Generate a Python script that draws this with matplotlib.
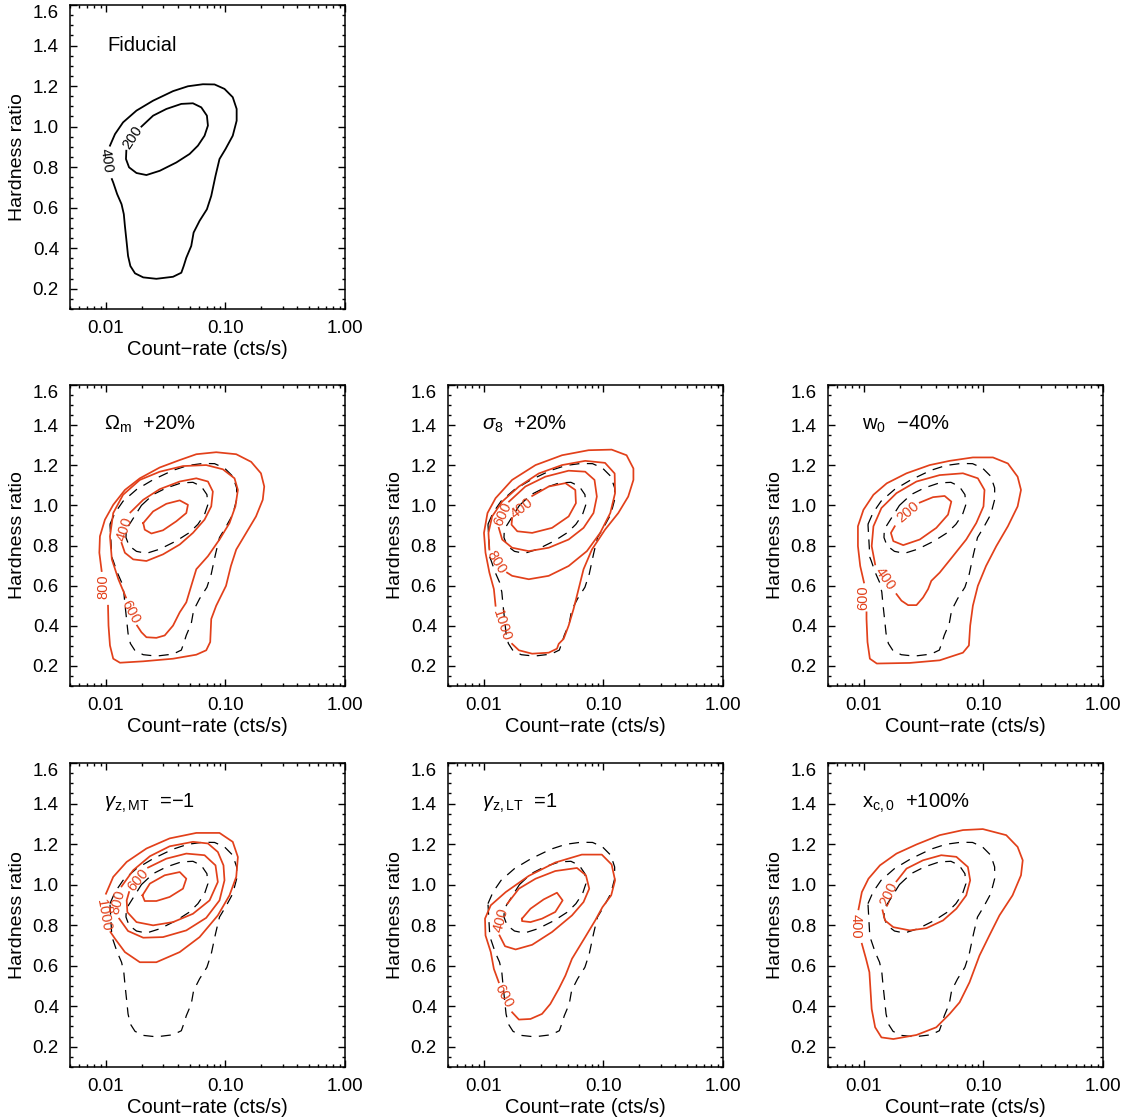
import numpy as np
import matplotlib
matplotlib.use('Agg')
import matplotlib.pyplot as plt
from matplotlib.ticker import FixedLocator, MultipleLocator, LogLocator, NullFormatter

plt.rcParams['font.family'] = ['Liberation Sans', 'DejaVu Sans']
plt.rcParams['mathtext.fontset'] = 'custom'
plt.rcParams['mathtext.rm'] = 'Liberation Sans'
plt.rcParams['mathtext.it'] = 'Liberation Sans:italic'

RED = '#E2401A'

# ---- contour paths (count-rate [cts/s], hardness ratio) ----
# fiducial model
fid400_cr = [0.0108, 0.0119, 0.0139, 0.0180, 0.0248, 0.0364, 0.0485, 0.0647, 0.0810, 0.0981, 0.115, 0.124, 0.124, 0.115, 0.100, 0.0891, 0.0825, 0.0760, 0.0699, 0.0607, 0.0541, 0.0517, 0.0470, 0.0447, 0.0427, 0.0364, 0.0264, 0.0205, 0.0175, 0.0160, 0.0153, 0.0149, 0.0144, 0.0141, 0.0135, 0.0124, 0.0115, 0.0112]
fid400_hr = [0.906, 0.963, 1.021, 1.079, 1.128, 1.175, 1.199, 1.209, 1.208, 1.186, 1.145, 1.087, 1.029, 0.955, 0.889, 0.840, 0.757, 0.658, 0.592, 0.535, 0.477, 0.411, 0.353, 0.312, 0.279, 0.259, 0.249, 0.256, 0.276, 0.312, 0.362, 0.428, 0.510, 0.568, 0.617, 0.667, 0.724, 0.741]
fid200_cr = [0.0198, 0.0248, 0.0320, 0.0427, 0.0534, 0.0627, 0.0699, 0.0713, 0.0668, 0.0588, 0.0501, 0.0388, 0.0282, 0.0218, 0.0180, 0.0156, 0.0147, 0.0148]
fid200_hr = [1.000, 1.054, 1.087, 1.112, 1.115, 1.095, 1.054, 1.005, 0.955, 0.906, 0.865, 0.823, 0.782, 0.761, 0.771, 0.799, 0.840, 0.881]

# Omega_m +20%
om800_cr = [0.0092, 0.0088, 0.0089, 0.0098, 0.0115, 0.0144, 0.0192, 0.0282, 0.0414, 0.0570, 0.0836, 0.123, 0.164, 0.198, 0.211, 0.205, 0.180, 0.149, 0.123, 0.111, 0.101, 0.0836, 0.0760, 0.0745, 0.0690, 0.0570, 0.0364, 0.0205, 0.0131, 0.0115, 0.0108, 0.0105, 0.0104]
om800_hr = [0.673, 0.764, 0.846, 0.929, 1.003, 1.077, 1.135, 1.189, 1.226, 1.255, 1.265, 1.255, 1.217, 1.160, 1.094, 1.028, 0.945, 0.863, 0.780, 0.698, 0.599, 0.500, 0.434, 0.319, 0.278, 0.256, 0.236, 0.223, 0.216, 0.236, 0.302, 0.401, 0.500]
om600_cr = [0.0147, 0.0127, 0.0112, 0.0108, 0.0115, 0.0139, 0.0192, 0.0282, 0.0441, 0.0690, 0.0950, 0.119, 0.127, 0.121, 0.108, 0.0891, 0.0713, 0.0570, 0.0517, 0.0470, 0.0414, 0.0364, 0.0310, 0.0264, 0.0218, 0.0198, 0.0182]
om600_hr = [0.541, 0.632, 0.731, 0.846, 0.962, 1.053, 1.127, 1.168, 1.196, 1.201, 1.180, 1.135, 1.077, 0.995, 0.912, 0.830, 0.747, 0.682, 0.599, 0.517, 0.467, 0.401, 0.352, 0.340, 0.343, 0.368, 0.401]
om400_cr = [0.0160, 0.0205, 0.0282, 0.0414, 0.0570, 0.0713, 0.0784, 0.0760, 0.0668, 0.0534, 0.0414, 0.0300, 0.0218, 0.0169, 0.0144, 0.0135]
om400_hr = [0.965, 1.028, 1.081, 1.119, 1.135, 1.119, 1.069, 0.995, 0.929, 0.863, 0.805, 0.756, 0.723, 0.731, 0.764, 0.813]
om200_cr = [0.0205, 0.0248, 0.0320, 0.0414, 0.0485, 0.0470, 0.0388, 0.0300, 0.0240, 0.0211, 0.0205]
om200_hr = [0.912, 0.970, 1.008, 1.025, 1.003, 0.962, 0.921, 0.876, 0.860, 0.879, 0.912]

# sigma_8 +20%
s1000_cr = [0.0125, 0.0121, 0.0111, 0.0103, 0.0100, 0.0107, 0.0125, 0.0172, 0.0270, 0.0450, 0.0750, 0.117, 0.156, 0.178, 0.178, 0.161, 0.133, 0.103, 0.0800, 0.0681, 0.0619, 0.0562, 0.0511, 0.0464, 0.0422, 0.0408, 0.0348, 0.0253, 0.0196, 0.0172]
s1000_hr = [0.500, 0.583, 0.665, 0.764, 0.863, 0.962, 1.036, 1.127, 1.201, 1.250, 1.275, 1.278, 1.250, 1.184, 1.127, 1.044, 0.962, 0.879, 0.780, 0.682, 0.583, 0.484, 0.401, 0.335, 0.310, 0.286, 0.266, 0.261, 0.278, 0.310]
s800_cr = [0.0111, 0.0109, 0.0117, 0.0142, 0.0196, 0.0287, 0.0450, 0.0703, 0.103, 0.124, 0.125, 0.114, 0.0938, 0.0726, 0.0511, 0.0348, 0.0237, 0.0172, 0.0156]
s800_hr = [0.780, 0.863, 0.945, 1.019, 1.094, 1.159, 1.201, 1.222, 1.212, 1.159, 1.061, 0.962, 0.863, 0.772, 0.698, 0.649, 0.632, 0.649, 0.665]
s600_cr = [0.0162, 0.0222, 0.0326, 0.0511, 0.0703, 0.0841, 0.0880, 0.0825, 0.0681, 0.0511, 0.0348, 0.0237, 0.0172, 0.0142, 0.0133]
s600_hr = [1.019, 1.094, 1.143, 1.173, 1.168, 1.127, 1.044, 0.962, 0.888, 0.830, 0.789, 0.772, 0.789, 0.830, 0.888]
s400_cr = [0.0253, 0.0348, 0.0480, 0.0581, 0.0588, 0.0511, 0.0371, 0.0253, 0.0190, 0.0170, 0.0172]
s400_hr = [1.047, 1.094, 1.111, 1.077, 1.011, 0.945, 0.888, 0.863, 0.871, 0.904, 0.937]

# w_0 -40%
w600_cr = [0.0100, 0.0093, 0.0089, 0.0089, 0.0099, 0.0120, 0.0155, 0.0227, 0.0355, 0.0521, 0.0815, 0.120, 0.160, 0.193, 0.206, 0.193, 0.160, 0.128, 0.105, 0.0897, 0.0815, 0.0774, 0.0755, 0.0673, 0.0430, 0.0242, 0.0128, 0.0112, 0.0107, 0.0105, 0.0105]
w600_hr = [0.616, 0.698, 0.797, 0.896, 0.978, 1.053, 1.110, 1.160, 1.201, 1.222, 1.239, 1.239, 1.209, 1.143, 1.077, 0.995, 0.896, 0.797, 0.698, 0.599, 0.500, 0.401, 0.302, 0.266, 0.228, 0.215, 0.212, 0.236, 0.319, 0.434, 0.467]
w400_cr = [0.0124, 0.0116, 0.0120, 0.0140, 0.0187, 0.0275, 0.0430, 0.0673, 0.0897, 0.102, 0.100, 0.0870, 0.0717, 0.0555, 0.0430, 0.0366, 0.0344, 0.0312, 0.0275, 0.0234, 0.0206, 0.0187]
w400_hr = [0.706, 0.797, 0.896, 0.987, 1.061, 1.119, 1.151, 1.160, 1.135, 1.077, 0.995, 0.912, 0.830, 0.747, 0.665, 0.624, 0.583, 0.541, 0.503, 0.503, 0.525, 0.558]
w200_cr = [0.0293, 0.0378, 0.0473, 0.0538, 0.0505, 0.0403, 0.0293, 0.0213, 0.0176, 0.0168, 0.0181]
w200_hr = [1.014, 1.041, 1.047, 1.019, 0.954, 0.888, 0.830, 0.802, 0.822, 0.863, 0.896]

# gamma_z,MT = -1
gm400_cr = [0.0202, 0.0233, 0.0310, 0.0414, 0.0470, 0.0441, 0.0341, 0.0264, 0.0211, 0.0202]
gm400_hr = [0.947, 1.005, 1.046, 1.062, 1.029, 0.980, 0.939, 0.919, 0.919, 0.947]
gm600_cr = [0.0225, 0.0320, 0.0470, 0.0668, 0.0825, 0.0863, 0.0736, 0.0534, 0.0364, 0.0248, 0.0180, 0.0151, 0.0149, 0.0156]
gm600_hr = [1.084, 1.128, 1.153, 1.145, 1.095, 1.013, 0.922, 0.856, 0.815, 0.799, 0.815, 0.864, 0.922, 0.963]
gm800_cr = [0.0135, 0.0169, 0.0233, 0.0341, 0.0534, 0.0713, 0.0863, 0.0962, 0.0981, 0.0891, 0.0690, 0.0470, 0.0300, 0.0205, 0.0153, 0.0129]
gm800_hr = [0.991, 1.071, 1.140, 1.189, 1.211, 1.203, 1.161, 1.095, 1.021, 0.922, 0.836, 0.774, 0.741, 0.738, 0.771, 0.832]
gm1000_cr = [0.0100, 0.0115, 0.0149, 0.0218, 0.0341, 0.0570, 0.0891, 0.115, 0.127, 0.123, 0.108, 0.0863, 0.0607, 0.0414, 0.0264, 0.0192, 0.0144, 0.0119, 0.0109]
gm1000_hr = [0.955, 1.038, 1.112, 1.178, 1.228, 1.255, 1.255, 1.211, 1.136, 1.038, 0.947, 0.848, 0.741, 0.667, 0.617, 0.617, 0.667, 0.733, 0.766]

# gamma_z,LT = 1
gl200_cr = [0.0208, 0.0245, 0.0316, 0.0408, 0.0455, 0.0395, 0.0306, 0.0245, 0.0208, 0.0208]
gl200_hr = [0.832, 0.881, 0.927, 0.960, 0.922, 0.865, 0.832, 0.815, 0.820, 0.832]
gl400_cr = [0.0157, 0.0196, 0.0270, 0.0395, 0.0600, 0.0713, 0.0760, 0.0681, 0.0545, 0.0371, 0.0253, 0.0184, 0.0150, 0.0135]
gl400_hr = [0.906, 0.980, 1.029, 1.067, 1.082, 1.046, 0.980, 0.914, 0.848, 0.766, 0.703, 0.680, 0.696, 0.749]
gl600_cr = [0.0133, 0.0121, 0.0114, 0.0103, 0.0102, 0.0114, 0.0152, 0.0237, 0.0395, 0.0659, 0.0968, 0.117, 0.125, 0.116, 0.0981, 0.0852, 0.0703, 0.0545, 0.0480, 0.0422, 0.0359, 0.0306, 0.0245, 0.0196, 0.0172]
gl600_hr = [0.518, 0.584, 0.667, 0.749, 0.832, 0.898, 0.963, 1.043, 1.109, 1.148, 1.148, 1.099, 1.021, 0.947, 0.889, 0.823, 0.741, 0.634, 0.551, 0.485, 0.411, 0.362, 0.337, 0.334, 0.370]

# x_c,0 +100%
xc400_cr = [0.0090, 0.0096, 0.0109, 0.0136, 0.0187, 0.0275, 0.0430, 0.0673, 0.0987, 0.155, 0.193, 0.213, 0.206, 0.175, 0.136, 0.112, 0.0926, 0.0764, 0.0631, 0.0521, 0.0403, 0.0275, 0.0176, 0.0140, 0.0124, 0.0116, 0.0111, 0.0104, 0.0096]
xc400_hr = [0.878, 0.963, 1.029, 1.095, 1.153, 1.198, 1.244, 1.269, 1.274, 1.244, 1.186, 1.120, 1.046, 0.947, 0.848, 0.749, 0.650, 0.518, 0.419, 0.362, 0.296, 0.258, 0.238, 0.246, 0.296, 0.386, 0.568, 0.634, 0.708]
xc200_cr = [0.0187, 0.0227, 0.0312, 0.0443, 0.0593, 0.0740, 0.0774, 0.0717, 0.0593, 0.0458, 0.0333, 0.0242, 0.0176, 0.0150, 0.0143]
xc200_hr = [1.016, 1.079, 1.120, 1.145, 1.137, 1.087, 1.021, 0.947, 0.881, 0.823, 0.785, 0.774, 0.790, 0.823, 0.873]

titles = ['Fiducial', r'$\Omega_{\rm m}$  +20%', r'$\sigma_8$  +20%', r'w$_0$  $-$40%',
          r'$\gamma_{\rm z,MT}$  =$-$1', r'$\gamma_{\rm z,LT}$  =1', r'x$_{\rm c,0}$  +100%']

# (cr, hr, label, label_cr, label_hr, label_rotation)
panels = [
    [(fid400_cr, fid400_hr, '400', 0.0100, 0.832, -82), (fid200_cr, fid200_hr, '200', 0.0168, 0.945, 57)],
    [(om800_cr, om800_hr, '800', 0.0095, 0.595, 90), (om600_cr, om600_hr, '600', 0.0161, 0.467, -62),
     (om400_cr, om400_hr, '400', 0.0142, 0.880, 72), (om200_cr, om200_hr, None, 0, 0, 0)],
    [(s1000_cr, s1000_hr, '1000', 0.0142, 0.401, -72), (s800_cr, s800_hr, '800', 0.0127, 0.714, -58),
     (s600_cr, s600_hr, '600', 0.0143, 0.955, 65), (s400_cr, s400_hr, '400', 0.0208, 0.988, 38)],
    [(w600_cr, w600_hr, '600', 0.0098, 0.541, 90), (w400_cr, w400_hr, '400', 0.0151, 0.632, -55),
     (w200_cr, w200_hr, '200', 0.0234, 0.968, 40)],
    [(gm1000_cr, gm1000_hr, '1000', 0.0096, 0.850, -80), (gm800_cr, gm800_hr, '800', 0.0125, 0.915, 75),
     (gm600_cr, gm600_hr, '600', 0.0187, 1.022, 50), (gm400_cr, gm400_hr, None, 0, 0, 0)],
    [(gl600_cr, gl600_hr, '600', 0.0147, 0.452, -62), (gl400_cr, gl400_hr, '400', 0.0140, 0.823, 75),
     (gl200_cr, gl200_hr, None, 0, 0, 0)],
    [(xc400_cr, xc400_hr, '400', 0.0085, 0.795, -90), (xc200_cr, xc200_hr, '200', 0.0160, 0.955, 65)],
]

fig = plt.figure(figsize=(11.26, 11.2), dpi=100)
W, H = 1126.0, 1120.0
lefts = [70, 448, 828]
rows = [(5, 309), (385, 686), (763, 1067)]
slots = [(0, 0), (1, 0), (1, 1), (1, 2), (2, 0), (2, 1), (2, 2)]

for k, (r, c) in enumerate(slots):
    top, bot = rows[r]
    ax = fig.add_axes([lefts[c] / W, 1 - bot / H, 275 / W, (bot - top) / H])
    ax.set_xscale('log')
    ax.set_xlim(0.005, 1.0)
    ax.set_ylim(0.1, 1.6)

    if k > 0:
        for cr, hr in [(fid400_cr, fid400_hr), (fid200_cr, fid200_hr)]:
            ax.plot(cr + cr[:1], hr + hr[:1], color='black', lw=0.9, dashes=(8, 6))
    col = 'black' if k == 0 else RED
    for cr, hr, lab, lx, ly, rot in panels[k]:
        ax.plot(cr, hr, color=col, lw=1.25 if k else 1.3)
        if lab:
            ax.text(lx, ly, lab, color=col, fontsize=10.5, rotation=rot,
                    ha='center', va='center', rotation_mode='anchor')

    ax.text(0.125 if k else 0.135, 0.868, titles[k], transform=ax.transAxes,
            fontsize=14.5, ha='left', va='center')

    ax.xaxis.set_major_locator(FixedLocator([0.01, 0.1, 1.0]))
    ax.set_xticklabels(['0.01', '0.10', '1.00'])
    ax.xaxis.set_minor_locator(LogLocator(base=10, subs=np.arange(2, 10), numticks=20))
    ax.xaxis.set_minor_formatter(NullFormatter())
    ax.yaxis.set_minor_locator(MultipleLocator(0.05))
    ax.set_yticks(np.arange(0.2, 1.61, 0.2))
    ax.set_yticklabels(['%.1f' % v for v in np.arange(0.2, 1.61, 0.2)])
    ax.tick_params(which='both', direction='in', top=True, right=True, width=1.0, labelsize=13.5)
    ax.tick_params(which='major', length=5, pad=8)
    ax.tick_params(which='minor', length=2.5)
    ax.yaxis.get_ticklabels()[-1].set_verticalalignment('top')
    for s in ax.spines.values():
        s.set_linewidth(1.1)
    ax.set_xlabel('Count\u2212rate (cts/s)', fontsize=14.5, labelpad=2)
    ax.set_ylabel('Hardness ratio', fontsize=14, labelpad=5)

fig.savefig('out.png', dpi=100)
